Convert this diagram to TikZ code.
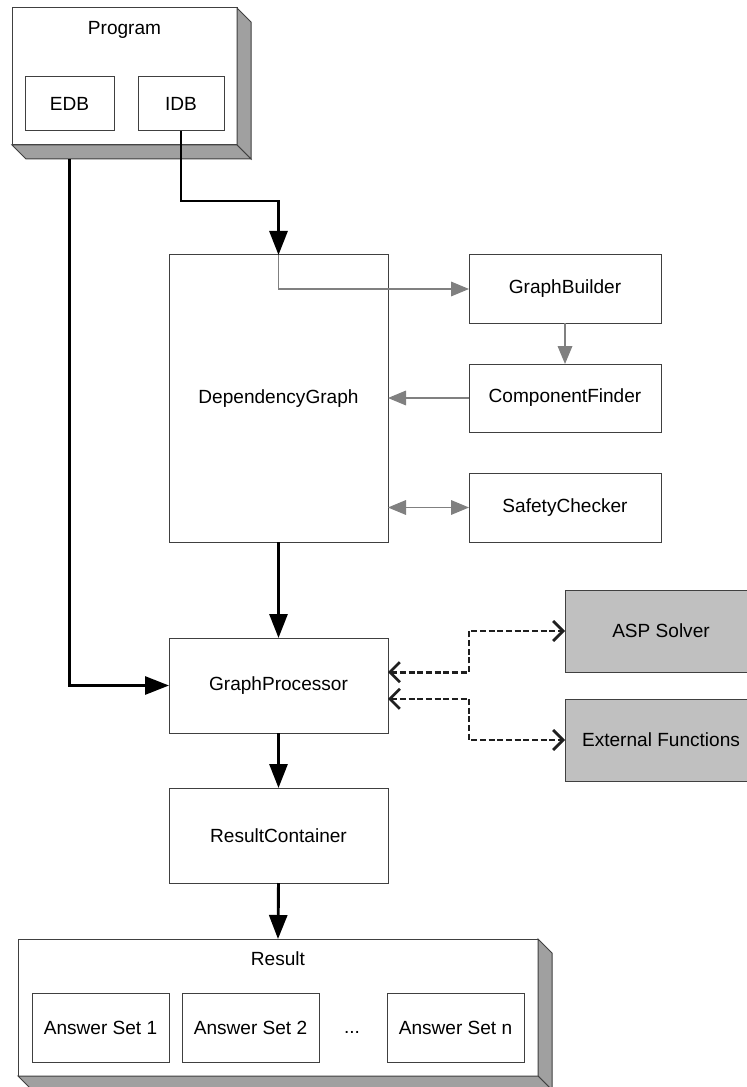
\documentclass[tikz,border=0pt]{standalone}
\usepackage{fontspec}
\setmainfont{Liberation Sans}
\usetikzlibrary{arrows.meta}
\definecolor{edge}{HTML}{404040}
\definecolor{side}{HTML}{A0A0A0}
\definecolor{extfill}{HTML}{C0C0C0}
\definecolor{flow}{HTML}{808080}

\begin{document}
\begin{tikzpicture}[x=0.75pt,y=-0.75pt,
  every node/.style={font=\fontsize{14.3}{17}\selectfont},
  box/.style={draw=edge,line width=0.75pt,fill=white,inner sep=0pt,outer sep=0pt,
    minimum width=144pt,minimum height=51pt},
  wide/.style={box,minimum width=164.25pt,minimum height=71.25pt},
  ext/.style={box,fill=extfill,minimum height=61.5pt},
  answer/.style={box,minimum width=102.75pt,minimum height=51.75pt},
  solid3d/.style={draw=edge,line width=0.75pt,fill=side},
  main/.style={line width=2.2pt,-{Triangle[width=13.5pt,length=18pt]}},
  sub/.style={draw=flow,line width=0.9pt,-{Triangle[width=11pt,length=13.5pt]}},
  call/.style={draw=black!88,line width=2pt,dash pattern=on 4.5pt off 2pt,
    {Straight Barb[width=15pt,length=7.5pt]}-{Straight Barb[width=15pt,length=7.5pt]}}]
\useasboundingbox (0,0) rectangle (746,1087);

% program with its two parts
\node[box,minimum width=168.75pt,minimum height=102.75pt] (prog) at (124.5,76.5) {};
\draw[solid3d] (prog.north east) -- ++(14,14) -- ++(0,137) -- (prog.south east) -- cycle;
\draw[solid3d] (prog.south west) -- (prog.south east) -- ++(14,14) -- ++(-225,0) -- cycle;
\node (progtitle) at (124.5,30) {Program};
\node[box,minimum width=66.75pt,minimum height=40.5pt] (edb) at (69.5,104) {EDB};
\node[box,minimum width=64.5pt,minimum height=40.5pt] (idb) at (181,104) {IDB};

% graph and its helpers
\node[wide,minimum height=215.25pt] (dg) at (278.5,398.5) {DependencyGraph};
\node[box] (gb) at (565,289) {GraphBuilder};
\node[box] (cf) at (565,398) {ComponentFinder};
\node[box,minimum height=51.75pt] (sc) at (565,507.5) {SafetyChecker};

\node[wide] (gp) at (278.5,685.5) {GraphProcessor};
\node[wide] (rc) at (278.5,835.5) {ResultContainer};
\node[ext] (asp) at (661,631) {ASP Solver};
\node[ext] (extf) at (661,740) {External Functions};

% result with the answer sets
\node[box,minimum width=390pt,minimum height=102.75pt] (res) at (278,1007.5) {};
\draw[solid3d] (res.north east) -- ++(14,14) -- ++(0,137) -- (res.south east) -- cycle;
\draw[solid3d] (res.south west) -- (res.south east) -- ++(14,14) -- ++(-520,0) -- cycle;
\node (restitle) at (278,959) {Result};
\node[answer] (as1) at (100.5,1027.5) {Answer Set 1};
\node[answer] (as2) at (250.5,1027.5) {Answer Set 2};
\node[anchor=base] (dots) at (352,1033) {...};
\node[answer] (asn) at (455.5,1027.5) {Answer Set n};

% connectors
\coordinate (edbout) at (69.5,159);
\draw[main] (edbout) |- (gp.west);
\draw[main] (idb.south) |- (dg.north |- 0,201) -- (dg.north);
\draw[sub] (dg.north) |- (gb.west);
\draw[sub] (gb.south) -- (cf.north);
\draw[sub] (cf.west) -- (cf.west -| dg.east);
\draw[sub,{Triangle[width=11pt,length=13.5pt]}-{Triangle[width=11pt,length=13.5pt]}] (sc.west) -- (sc.west -| dg.east);
\draw[main] (dg.south) -- (gp.north);
\draw[main] (gp.south) -- (rc.north);
\draw[main] (rc.south) -- (res.north);
\draw[call] ([yshift=10pt]gp.east) -| (sc.west |- asp.west) -- (asp.west);
\draw[call] ([yshift=-10pt]gp.east) -| (sc.west |- extf.west) -- (extf.west);
\end{tikzpicture}
\end{document}
